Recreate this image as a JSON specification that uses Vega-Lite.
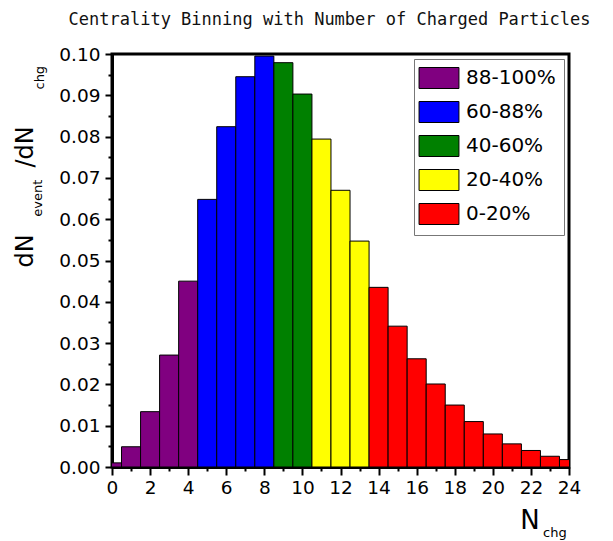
{
  "$schema": "https://vega.github.io/schema/vega-lite/v6.json",
  "width": 457,
  "height": 413,
  "autosize": "none",
  "padding": {"left": 112, "top": 54, "right": 44, "bottom": 74},
  "background": "white",
  "config": {
    "view": {"stroke": "black", "strokeWidth": 3},
    "font": "DejaVu Sans"
  },
  "title": {
    "text": "Centrality Binning with Number of Charged Particles",
    "font": "DejaVu Sans Mono",
    "fontSize": 17,
    "fontWeight": "normal",
    "color": "#111111",
    "anchor": "middle",
    "dx": -11,
    "offset": 16
  },
  "data": {
    "values": [
      {"nchg": 0, "lo": -0.5, "hi": 0.5, "frac": 0.0010, "centrality": "88-100%"},
      {"nchg": 1, "lo": 0.5, "hi": 1.5, "frac": 0.0049, "centrality": "88-100%"},
      {"nchg": 2, "lo": 1.5, "hi": 2.5, "frac": 0.0134, "centrality": "88-100%"},
      {"nchg": 3, "lo": 2.5, "hi": 3.5, "frac": 0.0271, "centrality": "88-100%"},
      {"nchg": 4, "lo": 3.5, "hi": 4.5, "frac": 0.0450, "centrality": "88-100%"},
      {"nchg": 5, "lo": 4.5, "hi": 5.5, "frac": 0.0648, "centrality": "60-88%"},
      {"nchg": 6, "lo": 5.5, "hi": 6.5, "frac": 0.0824, "centrality": "60-88%"},
      {"nchg": 7, "lo": 6.5, "hi": 7.5, "frac": 0.0945, "centrality": "60-88%"},
      {"nchg": 8, "lo": 7.5, "hi": 8.5, "frac": 0.0995, "centrality": "60-88%"},
      {"nchg": 9, "lo": 8.5, "hi": 9.5, "frac": 0.0979, "centrality": "40-60%"},
      {"nchg": 10, "lo": 9.5, "hi": 10.5, "frac": 0.0903, "centrality": "40-60%"},
      {"nchg": 11, "lo": 10.5, "hi": 11.5, "frac": 0.0794, "centrality": "20-40%"},
      {"nchg": 12, "lo": 11.5, "hi": 12.5, "frac": 0.0670, "centrality": "20-40%"},
      {"nchg": 13, "lo": 12.5, "hi": 13.5, "frac": 0.0547, "centrality": "20-40%"},
      {"nchg": 14, "lo": 13.5, "hi": 14.5, "frac": 0.0435, "centrality": "0-20%"},
      {"nchg": 15, "lo": 14.5, "hi": 15.5, "frac": 0.0341, "centrality": "0-20%"},
      {"nchg": 16, "lo": 15.5, "hi": 16.5, "frac": 0.0262, "centrality": "0-20%"},
      {"nchg": 17, "lo": 16.5, "hi": 17.5, "frac": 0.0201, "centrality": "0-20%"},
      {"nchg": 18, "lo": 17.5, "hi": 18.5, "frac": 0.0150, "centrality": "0-20%"},
      {"nchg": 19, "lo": 18.5, "hi": 19.5, "frac": 0.0110, "centrality": "0-20%"},
      {"nchg": 20, "lo": 19.5, "hi": 20.5, "frac": 0.0080, "centrality": "0-20%"},
      {"nchg": 21, "lo": 20.5, "hi": 21.5, "frac": 0.0056, "centrality": "0-20%"},
      {"nchg": 22, "lo": 21.5, "hi": 22.5, "frac": 0.0040, "centrality": "0-20%"},
      {"nchg": 23, "lo": 22.5, "hi": 23.5, "frac": 0.0026, "centrality": "0-20%"},
      {"nchg": 24, "lo": 23.5, "hi": 24.5, "frac": 0.0018, "centrality": "0-20%"}
    ]
  },
  "resolve": {"axis": {"x": "independent", "y": "independent"}},
  "layer": [
    {
      "mark": {"type": "bar", "stroke": "black", "strokeWidth": 1, "clip": true, "opacity": 1, "orient": "vertical"},
      "encoding": {
        "x": {
          "field": "lo", "type": "quantitative",
          "scale": {"domain": [0, 24], "nice": false, "zero": false, "padding": 0},
          "axis": {
            "orient": "bottom", "title": null, "values": [0, 2, 4, 6, 8, 10, 12, 14, 16, 18, 20, 22, 24],
            "format": "d", "grid": false, "domainColor": "black", "domainWidth": 3,
            "tickColor": "black", "tickWidth": 2, "tickSize": 8,
            "labelFont": "DejaVu Sans", "labelFontSize": 18.5, "labelColor": "black", "labelPadding": 3,
            "labelFlush": false, "labelOverlap": false
          }
        },
        "x2": {"field": "hi"},
        "y": {
          "field": "frac", "type": "quantitative",
          "scale": {"domain": [0, 0.1], "nice": false, "zero": true, "padding": 0},
          "axis": {
            "orient": "left", "title": null, "values": [0, 0.01, 0.02, 0.03, 0.04, 0.05, 0.06, 0.07, 0.08, 0.09, 0.1],
            "format": ".2f", "grid": false, "domainColor": "black", "domainWidth": 3,
            "tickColor": "black", "tickWidth": 2, "tickSize": 7,
            "labelFont": "DejaVu Sans", "labelFontSize": 18.5, "labelColor": "black", "labelPadding": 5,
            "labelFlush": false, "labelOverlap": false
          }
        },
        "y2": {"datum": 0},
        "color": {
          "field": "centrality", "type": "nominal",
          "scale": {
            "domain": ["88-100%", "60-88%", "40-60%", "20-40%", "0-20%"],
            "range": ["#800080", "#0000ff", "#008000", "#ffff00", "#ff0000"]
          },
          "legend": {
            "title": null, "orient": "none", "legendX": 302, "legendY": 5, "direction": "vertical",
            "symbolType": "M-1.9,-1H1.9V1H-1.9Z", "symbolSize": 441,
            "symbolStrokeColor": "black", "symbolStrokeWidth": 1, "symbolOpacity": 1,
            "labelFont": "DejaVu Sans", "labelFontSize": 20, "labelColor": "black",
            "labelOffset": 16, "symbolOffset": 6, "rowPadding": 8, "padding": 8,
            "strokeColor": "#777777", "fillColor": "white", "labelLimit": 200
          }
        }
      }
    },
    {
      "mark": {"type": "point", "opacity": 0},
      "encoding": {
        "x": {
          "field": "nchg", "type": "quantitative",
          "scale": {"domain": [0, 24], "nice": false, "zero": false, "padding": 0},
          "axis": {
            "orient": "bottom", "title": null, "values": [1, 3, 5, 7, 9, 11, 13, 15, 17, 19, 21, 23],
            "labels": false, "domain": false, "grid": false,
            "tickColor": "black", "tickWidth": 2, "tickSize": 4
          }
        },
        "y": {
          "field": "frac", "type": "quantitative",
          "scale": {"domain": [0, 0.1], "nice": false, "zero": true, "padding": 0},
          "axis": {
            "orient": "left", "title": null, "values": [0.005, 0.015, 0.025, 0.035, 0.045, 0.055, 0.065, 0.075, 0.085, 0.095],
            "labels": false, "domain": false, "grid": false,
            "tickColor": "black", "tickWidth": 2, "tickSize": 4
          }
        }
      }
    },
    {
      "data": {"values": [{"label": "dN"}]},
      "mark": {"type": "text", "angle": 270, "align": "left", "baseline": "alphabetic", "font": "DejaVu Sans", "fontSize": 24, "color": "black"},
      "encoding": {
        "text": {"field": "label"},
        "x": {"datum": -4.15, "type": "quantitative", "axis": null},
        "y": {"datum": 0.0483, "type": "quantitative", "axis": null}
      }
    },
    {
      "data": {"values": [{"label": "event"}]},
      "mark": {"type": "text", "angle": 270, "align": "left", "baseline": "alphabetic", "font": "DejaVu Sans", "fontSize": 13, "color": "black"},
      "encoding": {
        "text": {"field": "label"},
        "x": {"datum": -3.68, "type": "quantitative", "axis": null},
        "y": {"datum": 0.0606, "type": "quantitative", "axis": null}
      }
    },
    {
      "data": {"values": [{"label": "/dN"}]},
      "mark": {"type": "text", "angle": 270, "align": "left", "baseline": "alphabetic", "font": "DejaVu Sans", "fontSize": 24, "color": "black"},
      "encoding": {
        "text": {"field": "label"},
        "x": {"datum": -4.15, "type": "quantitative", "axis": null},
        "y": {"datum": 0.0725, "type": "quantitative", "axis": null}
      }
    },
    {
      "data": {"values": [{"label": "chg"}]},
      "mark": {"type": "text", "angle": 270, "align": "left", "baseline": "alphabetic", "font": "DejaVu Sans", "fontSize": 13, "color": "black"},
      "encoding": {
        "text": {"field": "label"},
        "x": {"datum": -3.57, "type": "quantitative", "axis": null},
        "y": {"datum": 0.0914, "type": "quantitative", "axis": null}
      }
    },
    {
      "data": {"values": [{"label": "N"}]},
      "mark": {"type": "text", "align": "center", "baseline": "alphabetic", "font": "DejaVu Sans", "fontSize": 26, "color": "black"},
      "encoding": {
        "text": {"field": "label"},
        "x": {"datum": 21.95, "type": "quantitative", "axis": null},
        "y": {"datum": -0.0149, "type": "quantitative", "axis": null}
      }
    },
    {
      "data": {"values": [{"label": "chg"}]},
      "mark": {"type": "text", "align": "left", "baseline": "alphabetic", "font": "DejaVu Sans", "fontSize": 13, "color": "black"},
      "encoding": {
        "text": {"field": "label"},
        "x": {"datum": 22.64, "type": "quantitative", "axis": null},
        "y": {"datum": -0.0169, "type": "quantitative", "axis": null}
      }
    }
  ]
}
